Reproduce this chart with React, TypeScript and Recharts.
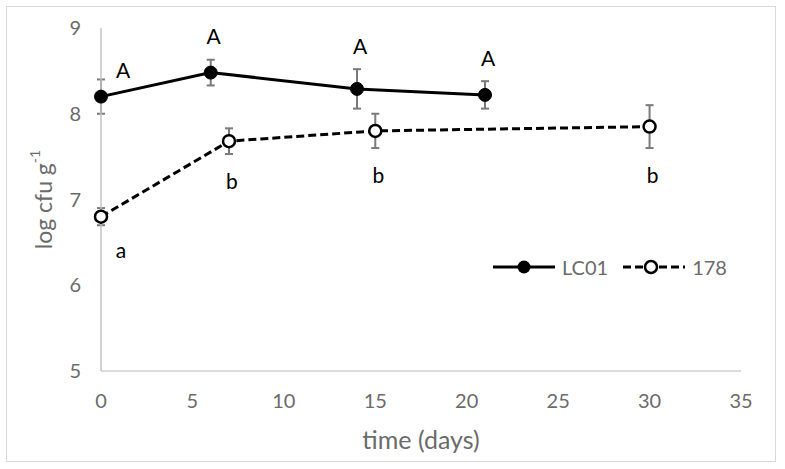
import React from "react";
import { ComposedChart, Line, XAxis, YAxis, ErrorBar, LabelList, Legend, Label } from "recharts";

const lcDays = [0, 6, 14, 21];
const lcMeans = [8.2, 8.48, 8.29, 8.22];
const lcErrors = [0.2, 0.15, 0.23, 0.16];
const lcLetters = ["A", "A", "A", "A"];

const s178Days = [0, 7, 15, 30];
const s178Means = [6.8, 7.68, 7.8, 7.85];
const s178Errors = [0.1, 0.15, 0.2, 0.25];
const s178Letters = ["a", "b", "b", "b"];

const xTicks = [0, 5, 10, 15, 20, 25, 30, 35];
const yTicks = [5, 6, 7, 8, 9];

const FONT = "Lato, 'Liberation Sans', sans-serif";
const GRAY = "#6b6b6b";
const ERR = "#7a7a7a";

const lcData = lcDays.map((day, i) => ({ day, value: lcMeans[i], err: lcErrors[i] }));
const s178Data = s178Days.map((day, i) => ({ day, value: s178Means[i], err: s178Errors[i] }));
// letters sit just past the end of each error bar
const lcLetterData = lcDays.map((day, i) => ({ day, y: lcMeans[i] + lcErrors[i], letter: lcLetters[i] }));
const s178LetterData = s178Days.map((day, i) => ({ day, y: s178Means[i] - s178Errors[i], letter: s178Letters[i] }));

const letterLabel = (dy: number, firstDx: number, firstDy: number) => (props: any) => {
  const x = Number(props.x ?? props.viewBox?.x);
  const y = Number(props.y ?? props.viewBox?.y);
  const first = props.index === 0;
  return (
    <text
      x={x + (first ? firstDx : 3)}
      y={y + dy + (first ? firstDy : 0)}
      textAnchor="middle"
      dominantBaseline="central"
      fontSize={21}
      fontFamily={FONT}
      fill="#000"
    >
      {props.value}
    </text>
  );
};

function YTitle(props: any) {
  const vb = props.viewBox || {};
  const cx = vb.x + 2;
  const cy = vb.y + vb.height / 2;
  return (
    <text
      x={cx}
      y={cy}
      transform={`rotate(-90 ${cx} ${cy})`}
      textAnchor="middle"
      dominantBaseline="central"
      fontSize={23}
      fontFamily={FONT}
      fill={GRAY}
    >
      log cfu g
      <tspan dy={-9} fontSize={14}>-1</tspan>
    </text>
  );
}

function XTitle(props: any) {
  const vb = props.viewBox || {};
  return (
    <text
      x={vb.x + vb.width / 2}
      y={vb.y + 78}
      textAnchor="middle"
      fontSize={25}
      fontFamily={FONT}
      fill={GRAY}
    >
      time (days)
    </text>
  );
}

function LegendContent() {
  return (
    <div style={{ display: "flex", alignItems: "center", fontFamily: FONT, fontSize: 20, color: GRAY }}>
      <svg width={64} height={16}>
        <line x1={1} x2={63} y1={8} y2={8} stroke="#000" strokeWidth={3} />
        <circle cx={32} cy={8} r={6.5} fill="#000" />
      </svg>
      <span style={{ marginLeft: 6 }}>LC01</span>
      <svg width={64} height={16} style={{ marginLeft: 14 }}>
        <line x1={1} x2={63} y1={8} y2={8} stroke="#000" strokeWidth={3} strokeDasharray="8 4" />
        <circle cx={29} cy={8} r={6} fill="#fff" stroke="#000" strokeWidth={2.5} />
      </svg>
      <span style={{ marginLeft: 6 }}>178</span>
    </div>
  );
}

export default function App() {
  return (
    <div style={{ position: "absolute", left: 0, top: 0, width: 785, height: 469, background: "#fff" }}>
      <div
        style={{
          position: "absolute",
          left: 6,
          top: 6,
          width: 770,
          height: 456,
          border: "1.5px solid #d9d9d9",
          boxSizing: "border-box",
          pointerEvents: "none",
        }}
      />
      <ComposedChart width={785} height={469} margin={{ top: 28, right: 44, bottom: 38, left: 41 }}>
        <XAxis
          type="number"
          dataKey="day"
          domain={[0, 35]}
          ticks={xTicks}
          interval={0}
          tickLine={false}
          axisLine={{ stroke: "#d0d0d0", strokeWidth: 1.5 }}
          tick={{ fill: GRAY, fontSize: 20, fontFamily: FONT }}
          tickMargin={17}
          height={60}
        >
          <Label content={XTitle} />
        </XAxis>
        <YAxis
          type="number"
          domain={[5, 9]}
          ticks={yTicks}
          interval={0}
          tickLine={false}
          axisLine={{ stroke: "#c4c4c4", strokeWidth: 1.5 }}
          tick={{ fill: GRAY, fontSize: 20, fontFamily: FONT }}
          tickMargin={14}
          width={60}
        >
          <Label content={YTitle} />
        </YAxis>
        <Legend
          layout="horizontal"
          verticalAlign="middle"
          align="center"
          width={270}
          wrapperStyle={{ left: 492, top: 255 }}
          content={LegendContent}
        />
        <Line
          data={s178Data}
          dataKey="value"
          name="178"
          stroke="#000"
          strokeWidth={3}
          strokeDasharray="8 4"
          dot={{ r: 6, fill: "#fff", stroke: "#000", strokeWidth: 2.5, strokeDasharray: "none" }}
          activeDot={false}
          isAnimationActive={false}
        >
          <ErrorBar dataKey="err" width={4} stroke={ERR} strokeWidth={2} />
        </Line>
        <Line
          data={lcData}
          dataKey="value"
          name="LC01"
          stroke="#000"
          strokeWidth={3}
          dot={{ r: 6.5, fill: "#000", stroke: "#000", strokeWidth: 1 }}
          activeDot={false}
          isAnimationActive={false}
        >
          <ErrorBar dataKey="err" width={4} stroke={ERR} strokeWidth={2} />
        </Line>
        <Line
          data={lcLetterData}
          dataKey="y"
          stroke="none"
          dot={false}
          activeDot={false}
          legendType="none"
          isAnimationActive={false}
        >
          <LabelList dataKey="letter" content={letterLabel(-24, 22, 14)} />
        </Line>
        <Line
          data={s178LetterData}
          dataKey="y"
          stroke="none"
          dot={false}
          activeDot={false}
          legendType="none"
          isAnimationActive={false}
        >
          <LabelList dataKey="letter" content={letterLabel(26, 20, -2)} />
        </Line>
      </ComposedChart>
    </div>
  );
}
